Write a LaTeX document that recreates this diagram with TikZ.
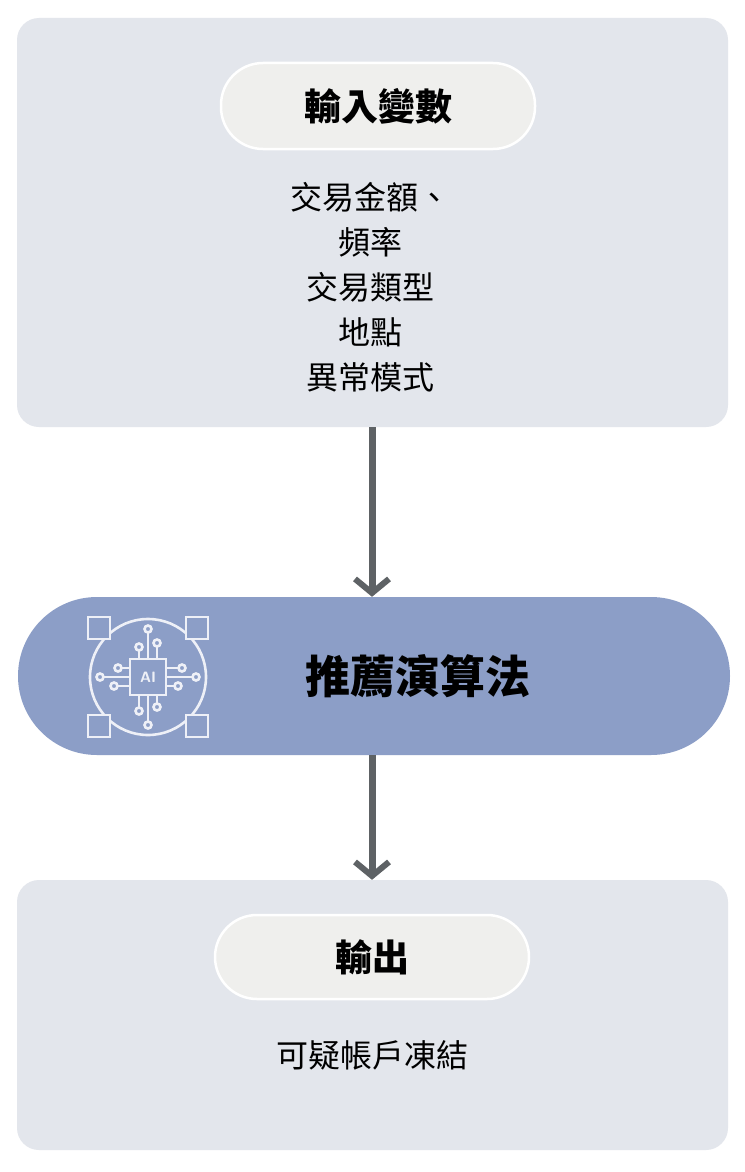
\documentclass[tikz,border=0pt]{standalone}
\usepackage{fontspec}
\setmainfont{Noto Sans CJK TC}
\usetikzlibrary{arrows.meta}
\definecolor{panel}{HTML}{E3E6EC}
\definecolor{pillgrey}{HTML}{EFEFED}
\definecolor{algo}{HTML}{8C9EC7}
\definecolor{arrowgrey}{HTML}{5E6265}
\tikzstyle{panelbox} = [rectangle, rounded corners=22pt, fill=panel, draw=none]
\tikzstyle{titlepill} = [rectangle, rounded corners=42pt, fill=pillgrey, draw=white, line width=2.5pt, font=\fontsize{37}{42}\selectfont\bfseries]
\tikzstyle{bodytext} = [align=center, font=\fontsize{32}{45}\selectfont]
\tikzstyle{flow} = [draw=arrowgrey, line width=7pt, -{Straight Barb[length=14pt,width=34pt,line width=6pt]}]
\tikzstyle{chip} = [draw=white!85!algo, line width=2.6pt]

\begin{document}
\begin{tikzpicture}[x=1pt,y=-1pt]
        \useasboundingbox[fill=white] (0,0) rectangle (744,1172);

        \node (inbox) [panelbox, minimum width=711pt, minimum height=409pt] at (372.5,222.5) {};
        \node (inpill) [titlepill, minimum width=314pt, minimum height=86pt] at (378,106) {輸入變數};
        \node (invars) [bodytext] at (370,287) {交易金額、\\頻率\\交易類型\\地點\\異常模式};

        \node (algo) [rectangle, rounded corners=79pt, fill=algo, minimum width=712pt, minimum height=158pt] at (374,676) {};
        \node (algotext) [font=\fontsize{45}{50}\selectfont\bfseries] at (418,676) {推薦演算法};

        \node (outbox) [panelbox, minimum width=711pt, minimum height=270pt] at (372.5,1015) {};
        \node (outpill) [titlepill, minimum width=314pt, minimum height=84pt] at (372,957) {輸出};
        \node (outtext) [bodytext] at (372,1055) {可疑帳戶凍結};

        \draw[flow] (inbox.south -| 372,0) -- (algo.north -| 372,0);
        \draw[flow] (algo.south -| 372,0) -- (outbox.north -| 372,0);

        % AI chip icon
        \begin{scope}[shift={(148,677)}, chip]
            \draw (0,0) circle (58);
            \foreach \sx in {-1,1}
                \foreach \sy in {-1,1}
                    \filldraw[fill=algo] (\sx*49-11,\sy*49-11) rectangle ++(22,22);
            \filldraw[fill=algo] (-18,-18) rectangle (18,18);
            \node[text=white!85!algo, font=\sffamily\bfseries\fontsize{15}{15}\selectfont] at (0,0) {AI};
            \foreach \a/\b/\c in {0/-18/-48, 9/-18/-34, -9/-18/-30, 0/18/48, -9/18/34, 9/18/30}
                {\draw (\a,\b) -- (\a,\c); \filldraw[fill=algo] (\a,\c) circle (3.5);}
            \foreach \b/\a/\c in {0/-18/-48, 9/-18/-34, -9/-18/-30, 0/18/48, -9/18/34, 9/18/30}
                {\draw (\a,\b) -- (\c,\b); \filldraw[fill=algo] (\c,\b) circle (3.5);}
        \end{scope}
    \end{tikzpicture}
\end{document}
